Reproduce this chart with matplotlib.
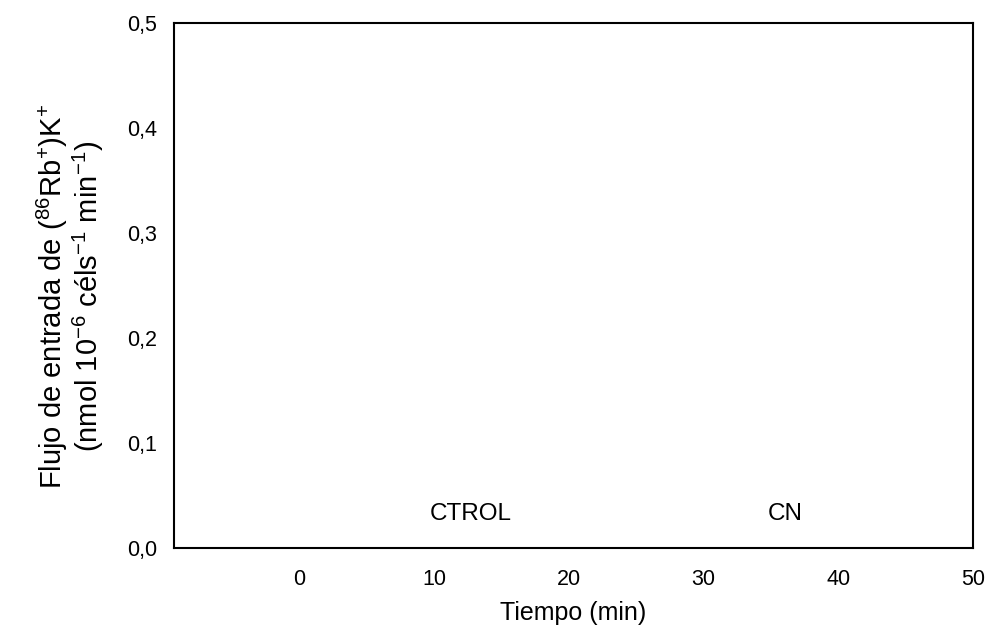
import matplotlib
matplotlib.use("Agg")
import matplotlib.pyplot as plt
from matplotlib.ticker import FuncFormatter

plt.rcParams['font.family'] = ['Liberation Sans', 'DejaVu Sans']
plt.rcParams['mathtext.default'] = 'regular'

# axis setup
x_ticks = [0, 10, 20, 30, 40, 50]
y_ticks = [0.0, 0.1, 0.2, 0.3, 0.4, 0.5]
x_range = [-9.3, 50]
y_range = [0.0, 0.5]

# group labels inside the plot
groups = ['CTROL', 'CN']
group_x = [12.7, 36.1]
group_y = [0.032, 0.032]

fig = plt.figure(figsize=(9.87, 6.27), dpi=100)
ax = fig.add_axes([0.1763, 0.126, 0.8095, 0.8373])

ax.set_xlim(x_range)
ax.set_ylim(y_range)
ax.set_xticks(x_ticks)
ax.set_yticks(y_ticks)
ax.yaxis.set_major_formatter(FuncFormatter(lambda v, p: ('%.1f' % v).replace('.', ',')))
ax.tick_params(length=0, labelsize=15.5)
ax.tick_params(axis='y', pad=12)
ax.tick_params(axis='x', pad=15)

for s in ax.spines.values():
    s.set_linewidth(1.5)
    s.set_color('black')

for g, gx, gy in zip(groups, group_x, group_y):
    ax.text(gx, gy, g, ha='center', va='center', fontsize=17.5)

ax.set_xlabel('Tiempo (min)', fontsize=18, labelpad=8)
ax.set_ylabel('Flujo de entrada de ($^{86}$Rb$^{+}$)K$^{+}$\n'
              '(nmol 10$^{-6}$ céls$^{-1}$ min$^{-1}$)',
              fontsize=21, linespacing=1.0)
ax.yaxis.set_label_coords(-0.0855, 0.48)

fig.savefig('out.png', dpi=100)
